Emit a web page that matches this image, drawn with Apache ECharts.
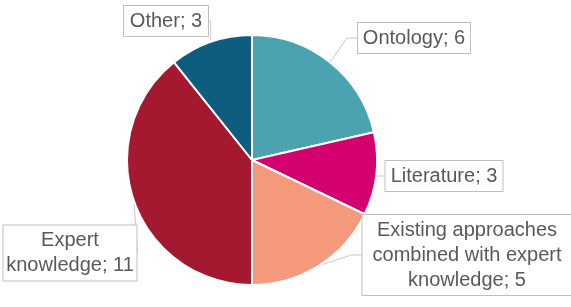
<!DOCTYPE html>
<html><head><meta charset="utf-8">
<script src="https://cdn.jsdelivr.net/npm/echarts@6/dist/echarts.min.js"></script>
<style>html,body{margin:0;padding:0;background:#fff}#c{width:571px;height:307px}</style>
</head><body><div id="c"></div>
<script>
const categories = ['Ontology', 'Literature', 'Existing approaches\ncombined with expert\nknowledge', 'Expert\nknowledge', 'Other'];
const values = [6, 3, 5, 11, 3];
const colors = ['#4BA3B1', '#D5006F', '#F4997B', '#A51930', '#0E5C7E'];
const labelCenters = [[414, 38], [444, 176], [467, 255], [70, 253], [166, 21]];
const labelWidths = [104, 109, 201, 125, 76];

const chart = echarts.init(document.getElementById('c'));
chart.setOption({
  animation: false,
  series: [{
    type: 'pie',
    center: [252, 160],
    radius: 125,
    startAngle: 90,
    clockwise: true,
    data: categories.map((n, i) => ({ name: n, value: values[i], itemStyle: { color: colors[i] }, label: { width: labelWidths[i] } })),
    itemStyle: { borderColor: '#fff', borderWidth: 2 },
    label: {
      show: true,
      formatter: p => p.name + '; ' + p.value,
      fontFamily: 'Liberation Sans, Arial, sans-serif',
      fontSize: 20,
      lineHeight: 25,
      color: '#595959',
      align: 'center',
      overflow: 'none',
      backgroundColor: '#fff',
      borderColor: '#BFBFBF',
      borderWidth: 1,
      padding: [3, 4, 2, 4]
    },
    labelLine: { show: true, length: 10, length2: 10, lineStyle: { color: '#C8C8C8', width: 1 } },
    labelLayout: function (p) {
      const c = labelCenters[p.dataIndex];
      return { x: c[0], y: c[1], align: 'center', verticalAlign: 'middle' };
    }
  }]
});
</script></body></html>
